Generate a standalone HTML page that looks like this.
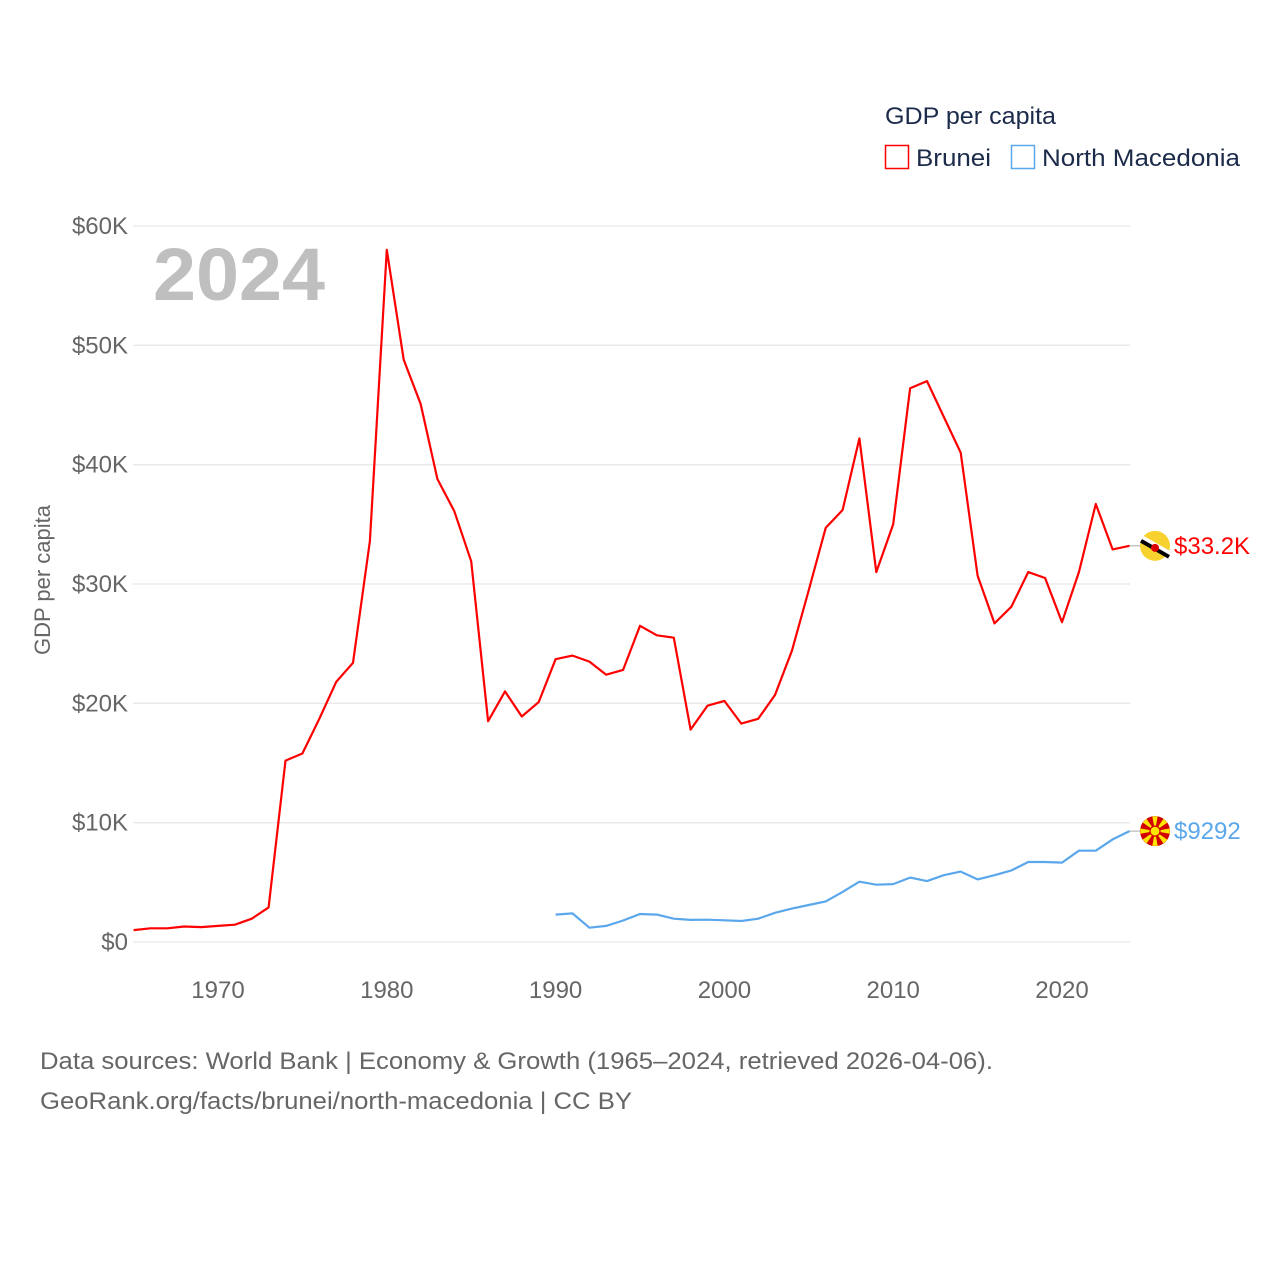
<!DOCTYPE html>
<html><head><meta charset="utf-8"><style>
body{margin:0;background:#fff;font-family:"Liberation Sans",sans-serif}
svg text{font-family:"Liberation Sans",sans-serif}
</style></head><body>
<svg width="1280" height="1280" viewBox="0 0 1280 1280" xmlns="http://www.w3.org/2000/svg">
<g id="grid"></g>
<g id="yt"></g>
<g id="xt"></g>
<text x="153" y="300" font-size="74" font-weight="bold" fill="#bfbfbf" textLength="172" lengthAdjust="spacingAndGlyphs">2024</text>
<text transform="translate(50,580) rotate(-90)" text-anchor="middle" font-size="22" fill="#666">GDP per capita</text>
<g id="series"></g>
<g>
<text x="885" y="124" font-size="24" fill="#1c2b4a" textLength="171" lengthAdjust="spacingAndGlyphs">GDP per capita</text>
<rect x="885.5" y="145.5" width="23" height="23" fill="none" stroke="#f00" stroke-width="1.5"/>
<text x="916" y="166" font-size="24" fill="#1c2b4a" textLength="75" lengthAdjust="spacingAndGlyphs">Brunei</text>
<rect x="1011.5" y="145.5" width="23" height="23" fill="none" stroke="#5ba7ec" stroke-width="1.5"/>
<text x="1042" y="166" font-size="24" fill="#1c2b4a" textLength="198" lengthAdjust="spacingAndGlyphs">North Macedonia</text>
</g>
<text x="40" y="1069" font-size="24" fill="#666" textLength="953" lengthAdjust="spacingAndGlyphs">Data sources: World Bank | Economy &amp; Growth (1965–2024, retrieved 2026-04-06).</text>
<text x="40" y="1109" font-size="24" fill="#666" textLength="592" lengthAdjust="spacingAndGlyphs">GeoRank.org/facts/brunei/north-macedonia | CC BY</text>
</svg>
<script>
const yTicks=[0,10000,20000,30000,40000,50000,60000];
const yTickLabels=["$0","$10K","$20K","$30K","$40K","$50K","$60K"];
const xTicks=[1970,1980,1990,2000,2010,2020];
const bruneiYears=[1965,1966,1967,1968,1969,1970,1971,1972,1973,1974,1975,1976,1977,1978,1979,1980,1981,1982,1983,1984,1985,1986,1987,1988,1989,1990,1991,1992,1993,1994,1995,1996,1997,1998,1999,2000,2001,2002,2003,2004,2005,2006,2007,2008,2009,2010,2011,2012,2013,2014,2015,2016,2017,2018,2019,2020,2021,2022,2023,2024];
const bruneiValues=[1000,1150,1150,1300,1250,1350,1450,1950,2900,15200,15800,18700,21800,23400,33600,58000,48800,45100,38800,36100,31900,18500,21000,18900,20100,23700,24000,23500,22400,22800,26500,25700,25500,17800,19800,20200,18300,18700,20700,24400,29500,34700,36200,42200,31000,35000,46400,47000,44000,41000,30700,26700,28100,31000,30500,26800,31000,36700,32900,33200];
const mkdYears=[1990,1991,1992,1993,1994,1995,1996,1997,1998,1999,2000,2001,2002,2003,2004,2005,2006,2007,2008,2009,2010,2011,2012,2013,2014,2015,2016,2017,2018,2019,2020,2021,2022,2023,2024];
const mkdValues=[2300,2400,1200,1350,1800,2350,2300,1950,1850,1870,1820,1760,1950,2450,2800,3100,3400,4200,5050,4800,4850,5400,5100,5600,5900,5250,5600,6000,6700,6700,6650,7650,7650,8600,9292];
const bruneiLabel="$33.2K", mkdLabel="$9292";
const NS="http://www.w3.org/2000/svg";
const X=y=>218+(y-1970)*(1062-218)/50;
const Y=v=>942-v*(942-226)/60000;
function mk(tag,attrs,parent){const e=document.createElementNS(NS,tag);for(const k in attrs)e.setAttribute(k,attrs[k]);parent.appendChild(e);return e;}
const grid=document.getElementById('grid'),yt=document.getElementById('yt'),xt=document.getElementById('xt'),ser=document.getElementById('series');
yTicks.forEach((v,i)=>{
 const l=mk('line',{x1:133,x2:1130,y1:Y(v),y2:Y(v),stroke:'#e8e8e8','stroke-width':1.3},grid);
 
 
 const t=mk('text',{x:128,y:Y(v)+8,'text-anchor':'end','font-size':24,fill:'#666'},yt);
 t.textContent=yTickLabels[i];
 
 
});
xTicks.forEach(y=>{
 const t=mk('text',{x:X(y),y:998,'text-anchor':'middle','font-size':24,fill:'#666'},xt);
 t.textContent=y;
 
 
});
function series(years,vals,color,name,label,flag){
 const d=years.map((y,i)=>(i?'L':'M')+X(y).toFixed(1)+','+Y(vals[i]).toFixed(1)).join('');
 const p=mk('path',{d:d,fill:'none',stroke:color,'stroke-width':2.2,'stroke-linejoin':'round'},ser);
 
 
 const lx=X(years[years.length-1]),ly=Y(vals[vals.length-1]);
 const c=mk('line',{x1:lx,y1:ly,x2:1142,y2:ly,stroke:'#aaa','stroke-width':1},ser);
 
 
 const g=mk('g',{transform:'translate(1155,'+ly+')'},ser);
 
 
 flag(g);
 const t=mk('text',{x:1174,y:ly+8,'font-size':24,fill:color},ser);
 t.textContent=label;
 
 
}
series(bruneiYears,bruneiValues,'#f00','brunei',bruneiLabel,g=>{
 mk('circle',{r:15,fill:'#f7d22f'},g);
 mk('line',{x1:-14,y1:-8,x2:14,y2:8,stroke:'#fff','stroke-width':6},g);
 mk('line',{x1:-14,y1:-5,x2:14,y2:11,stroke:'#000','stroke-width':4},g);
 mk('circle',{r:4,cy:2,fill:'#d00'},g);
});
series(mkdYears,mkdValues,'#5ba7ec','north-macedonia',mkdLabel,g=>{
 mk('circle',{r:15,fill:'#d20000'},g);
 for(let a=0;a<8;a++){const r=a*Math.PI/4;mk('path',{d:'M0,0L'+(15*Math.cos(r-0.18))+','+(15*Math.sin(r-0.18))+'L'+(15*Math.cos(r+0.18))+','+(15*Math.sin(r+0.18))+'Z',fill:'#ffe600'},g);}
 mk('circle',{r:5,fill:'#ffe600',stroke:'#d20000','stroke-width':1.2},g);
});
</script>
</body></html>
